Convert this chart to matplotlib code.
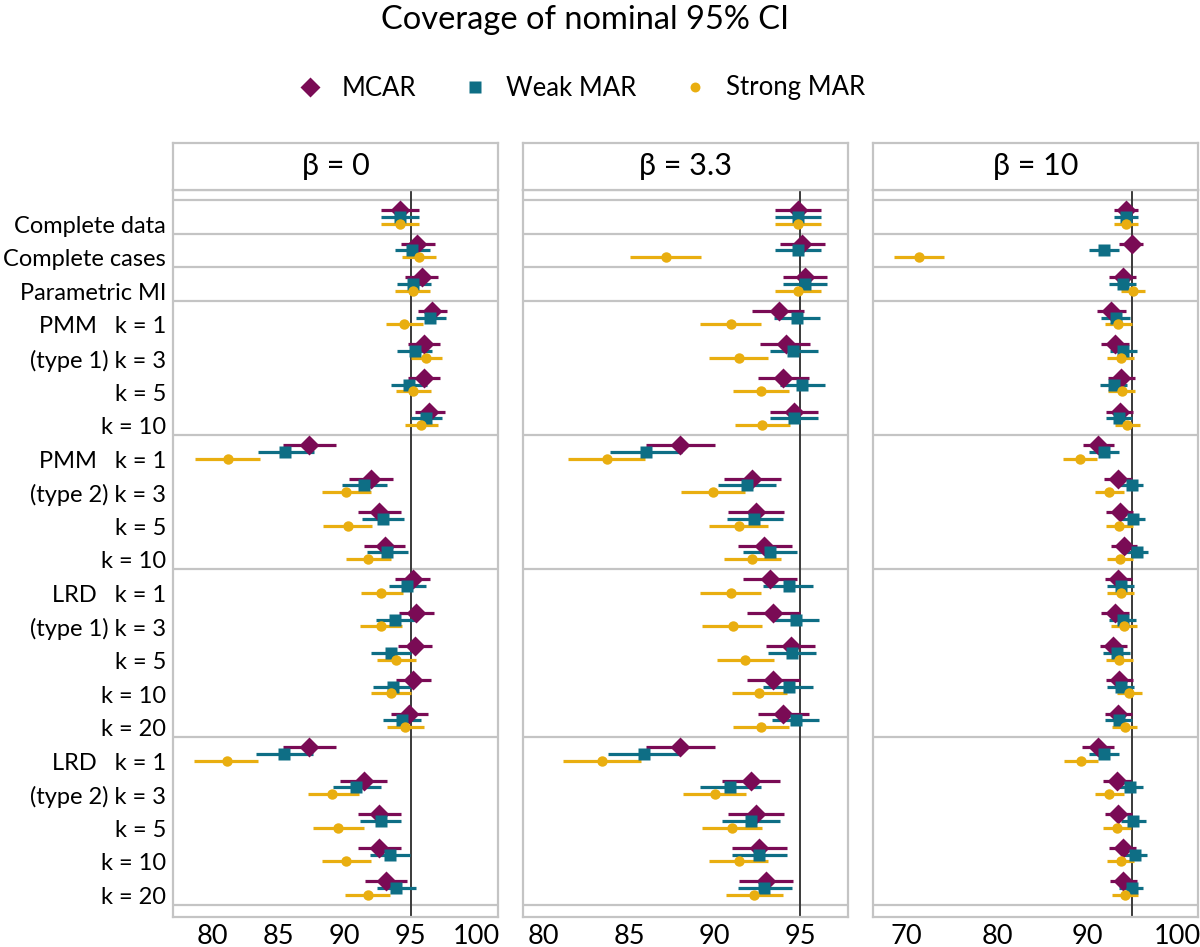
import matplotlib
matplotlib.use("Agg")
import matplotlib.pyplot as plt
from matplotlib.lines import Line2D

plt.rcParams['font.family'] = ['Lato', 'DejaVu Sans']

# ---------------- data ----------------
row_labels = ["Complete data", "Complete cases", "Parametric MI",
              "PMM   k = 1", "(type 1) k = 3", "k = 5", "k = 10",
              "PMM   k = 1", "(type 2) k = 3", "k = 5", "k = 10",
              "LRD   k = 1", "(type 1) k = 3", "k = 5", "k = 10", "k = 20",
              "LRD   k = 1", "(type 2) k = 3", "k = 5", "k = 10", "k = 20"]
group_breaks = [-0.5, 0.5, 1.5, 2.5, 6.5, 10.5, 15.5, 20.5]
panel_titles = ["β = 0", "β = 3.3", "β = 10"]
series_names = ["MCAR", "Weak MAR", "Strong MAR"]

# beta = 0
b0_mcar = [94.2, 95.45, 95.85, 96.65, 96.0, 96.0, 96.4, 87.35, 92.0, 92.65, 93.05,
           95.15, 95.4, 95.35, 95.2, 94.9, 87.35, 91.45, 92.6, 92.6, 93.15]
b0_mcar_lo = [92.8, 94.25, 94.6, 95.55, 94.8, 94.8, 95.3, 85.35, 90.35, 91.05, 91.5,
              93.8, 94.15, 94.05, 93.9, 93.55, 85.35, 89.7, 91.05, 91.05, 91.55]
b0_mcar_hi = [95.65, 96.85, 97.05, 97.75, 97.25, 97.25, 97.6, 89.4, 93.7, 94.25, 94.6,
              96.45, 96.75, 96.65, 96.55, 96.3, 89.4, 93.2, 94.25, 94.25, 94.7]
b0_weak = [94.2, 95.1, 95.2, 96.5, 95.35, 94.9, 96.15, 85.55, 91.5, 92.95, 93.25,
           94.7, 93.85, 93.5, 93.65, 94.35, 85.45, 90.9, 92.75, 93.45, 93.9]
b0_weak_lo = [92.8, 93.8, 93.95, 95.4, 94.0, 93.55, 95.0, 83.45, 89.8, 91.35, 91.7,
              93.35, 92.4, 92.0, 92.15, 92.95, 83.35, 89.15, 91.15, 91.9, 92.45]
b0_weak_hi = [95.65, 96.45, 96.55, 97.65, 96.65, 96.25, 97.4, 87.7, 93.25, 94.5, 94.8,
              96.15, 95.3, 95.0, 95.1, 95.75, 87.6, 92.75, 94.3, 94.95, 95.4]
b0_strong = [94.2, 95.65, 95.15, 94.5, 96.2, 95.2, 95.8, 81.2, 90.1, 90.25, 91.8,
             92.8, 92.75, 93.9, 93.5, 94.6, 81.1, 89.1, 89.55, 90.1, 91.75]
b0_strong_lo = [92.8, 94.35, 93.8, 93.15, 95.05, 93.9, 94.55, 78.75, 88.3, 88.4, 90.15,
                91.25, 91.15, 92.45, 92.0, 93.25, 78.65, 87.25, 87.65, 88.3, 90.05]
b0_strong_hi = [95.65, 96.9, 96.45, 95.95, 97.4, 96.55, 97.05, 83.6, 92.0, 92.1, 93.5,
                94.4, 94.35, 95.4, 95.05, 96.0, 83.5, 91.1, 91.45, 92.0, 93.45]

# beta = 3.3
b33_mcar = [94.9, 95.1, 95.3, 93.75, 94.15, 94.0, 94.65, 88.0, 92.2, 92.4, 92.9,
            93.25, 93.4, 94.45, 93.4, 94.0, 88.0, 92.1, 92.4, 92.6, 93.0]
b33_mcar_lo = [93.55, 93.8, 94.0, 92.2, 92.65, 92.55, 93.25, 86.0, 90.55, 90.8, 91.35,
               91.65, 91.9, 93.0, 91.9, 92.55, 86.0, 90.45, 90.8, 91.0, 91.45]
b33_mcar_hi = [96.25, 96.45, 96.6, 95.2, 95.6, 95.5, 96.05, 90.05, 93.9, 94.05, 94.5,
               94.8, 95.0, 95.85, 95.0, 95.5, 90.05, 93.8, 94.05, 94.25, 94.6]
b33_weak = [94.9, 94.9, 95.3, 94.8, 94.6, 95.1, 94.65, 86.0, 91.9, 92.3, 93.25,
            94.35, 94.75, 94.55, 94.35, 94.75, 85.9, 90.9, 92.1, 92.6, 92.9]
b33_weak_lo = [93.55, 93.55, 94.0, 93.45, 93.25, 93.8, 93.25, 83.9, 90.2, 90.7, 91.65,
               92.85, 93.4, 93.1, 92.85, 93.35, 83.75, 89.15, 90.45, 91.0, 91.35]
b33_weak_hi = [96.25, 96.25, 96.6, 96.15, 96.05, 96.45, 96.05, 88.1, 93.6, 94.0, 94.8,
               95.75, 96.1, 95.95, 95.75, 96.1, 88.05, 92.7, 93.8, 94.25, 94.5]
b33_strong = [94.9, 87.15, 94.9, 90.95, 91.4, 92.7, 92.8, 83.7, 89.9, 91.4, 92.2,
              90.95, 91.05, 91.8, 92.6, 92.7, 83.4, 90.0, 91.0, 91.4, 92.3]
b33_strong_lo = [93.55, 85.05, 93.55, 89.15, 89.7, 91.1, 91.2, 81.45, 88.05, 89.7, 90.55,
                 89.15, 89.25, 90.15, 91.0, 91.1, 81.15, 88.15, 89.25, 89.7, 90.65]
b33_strong_hi = [96.25, 89.2, 96.25, 92.7, 93.15, 94.35, 94.4, 85.95, 91.8, 93.15, 93.9,
                 92.7, 92.8, 93.5, 94.25, 94.35, 85.7, 91.85, 92.8, 93.15, 94.0]

# beta = 10
b10_mcar = [94.25, 94.9, 93.9, 92.65, 93.05, 93.7, 93.6, 91.2, 93.35, 93.6, 94.05,
            93.45, 93.05, 92.8, 93.5, 93.45, 91.2, 93.25, 93.45, 93.9, 94.0]
b10_mcar_lo = [92.9, 93.55, 92.4, 91.1, 91.55, 92.3, 92.1, 89.55, 91.85, 92.1, 92.6,
               91.95, 91.55, 91.4, 92.1, 91.95, 89.45, 91.75, 91.95, 92.4, 92.5]
b10_mcar_hi = [95.65, 96.2, 95.35, 94.25, 94.65, 95.25, 95.05, 92.95, 94.9, 95.05, 95.55,
               95.0, 94.65, 94.45, 95.05, 95.0, 92.9, 94.8, 95.0, 95.35, 95.45]
b10_weak = [94.25, 91.85, 93.9, 93.15, 93.95, 92.9, 93.5, 91.85, 94.9, 95.05, 95.45,
            93.7, 93.9, 93.25, 93.7, 93.5, 91.85, 94.75, 95.1, 95.25, 94.9]
b10_weak_lo = [92.9, 90.2, 92.4, 91.55, 92.5, 91.4, 92.05, 90.2, 93.5, 93.7, 94.05,
               92.15, 92.4, 91.75, 92.15, 91.95, 90.2, 93.35, 93.7, 93.9, 93.5]
b10_weak_hi = [95.65, 93.5, 95.35, 94.7, 95.45, 94.45, 95.0, 93.5, 96.2, 96.4, 96.75,
               95.2, 95.35, 94.75, 95.2, 95.0, 93.5, 96.15, 96.5, 96.6, 96.2]
b10_strong = [94.25, 71.35, 95.05, 93.45, 93.7, 93.8, 94.45, 89.15, 92.45, 93.5, 93.65,
              93.7, 94.05, 93.5, 94.65, 94.2, 89.25, 92.45, 93.25, 93.7, 94.2]
b10_strong_lo = [92.9, 68.6, 93.7, 91.95, 92.2, 92.3, 93.05, 87.3, 90.85, 92.05, 92.15,
                 92.15, 92.6, 92.05, 93.25, 92.75, 87.4, 90.85, 91.75, 92.2, 92.75]
b10_strong_hi = [95.65, 74.15, 96.4, 95.0, 95.2, 95.25, 95.85, 91.05, 94.05, 95.05, 95.1,
                 95.2, 95.55, 95.05, 96.05, 95.55, 91.2, 94.05, 94.8, 95.2, 95.65]

x_ticks = [[80, 85, 90, 95, 100], [80, 85, 90, 95], [70, 80, 90, 100]]
x_limits = [(77.06, 101.6), (78.8, 97.8), (66.26, 102.26)]
nominal = 95

# ---------------- style ----------------
colors = ["#7a0b55", "#0e6e85", "#e9ae10"]
markers = ["D", "s", "o"]
msizes = [10.5, 8.5, 7.5]
offsets = [-0.2, 0.0, 0.2]
grid_col = "#c4c4c4"

panels = [
    [(b0_mcar, b0_mcar_lo, b0_mcar_hi), (b0_weak, b0_weak_lo, b0_weak_hi),
     (b0_strong, b0_strong_lo, b0_strong_hi)],
    [(b33_mcar, b33_mcar_lo, b33_mcar_hi), (b33_weak, b33_weak_lo, b33_weak_hi),
     (b33_strong, b33_strong_lo, b33_strong_hi)],
    [(b10_mcar, b10_mcar_lo, b10_mcar_hi), (b10_weak, b10_weak_lo, b10_weak_hi),
     (b10_strong, b10_strong_lo, b10_strong_hi)],
]

W, H = 1200, 947
fig = plt.figure(figsize=(W / 100, H / 100), dpi=100)

panel_left = [173, 523, 873]
panel_w = 325
top_px, bot_px = 190, 917
strip_top = 143

n_rows = len(row_labels)
rows = list(range(n_rows))

for p in range(3):
    ax = fig.add_axes([panel_left[p] / W, 1 - bot_px / H, panel_w / W, (bot_px - top_px) / H])
    ax.set_xlim(*x_limits[p])
    ax.set_ylim(20.86, -0.8)
    for yb in group_breaks:
        ax.axhline(yb, color=grid_col, lw=1.6, zorder=1)
    ax.axvline(nominal, color="#3a3a3a", lw=1.4, zorder=2)
    # error bars first
    for s in range(3):
        est, lo, hi = panels[p][s]
        ys = [r + offsets[s] for r in rows]
        ax.hlines(ys, lo, hi, color=colors[s], lw=2.3, zorder=3)
    for s in range(3):
        est, lo, hi = panels[p][s]
        ys = [r + offsets[s] for r in rows]
        ax.plot(est, ys, linestyle="none", marker=markers[s], ms=msizes[s],
                color=colors[s], mec="none", zorder=4)
    ax.set_xticks(x_ticks[p])
    ax.set_xticklabels([str(t) for t in x_ticks[p]], fontsize=19.5)
    if p == 0:
        ax.set_yticks([r + 0.22 for r in rows])
        ax.set_yticklabels(row_labels, fontsize=17)
    else:
        ax.set_yticks([])
    ax.tick_params(length=0, pad=5)
    for sp in ax.spines.values():
        sp.set_color(grid_col)
        sp.set_linewidth(1.6)

    # strip
    sax = fig.add_axes([panel_left[p] / W, 1 - top_px / H, panel_w / W, (top_px - strip_top) / H])
    sax.set_xticks([])
    sax.set_yticks([])
    for sp in sax.spines.values():
        sp.set_color(grid_col)
        sp.set_linewidth(1.6)
    sax.text(0.5, 0.5, panel_titles[p], ha="center", va="center", fontsize=22,
             transform=sax.transAxes)

fig.text(585 / W, 1 - 20 / H, "Coverage of nominal 95% CI", ha="center", va="center",
         fontsize=23.5)

handles = [Line2D([], [], linestyle="none", marker=markers[s], ms=msizes[s] * 0.95,
                  color=colors[s], mec="none") for s in range(3)]
fig.legend(handles, series_names, loc="center", bbox_to_anchor=(580 / W, 1 - 88 / H),
           ncol=3, frameon=False, fontsize=18.5, handletextpad=0.6, columnspacing=1.7,
           handlelength=1.2)

fig.savefig("out.png", dpi=100)
